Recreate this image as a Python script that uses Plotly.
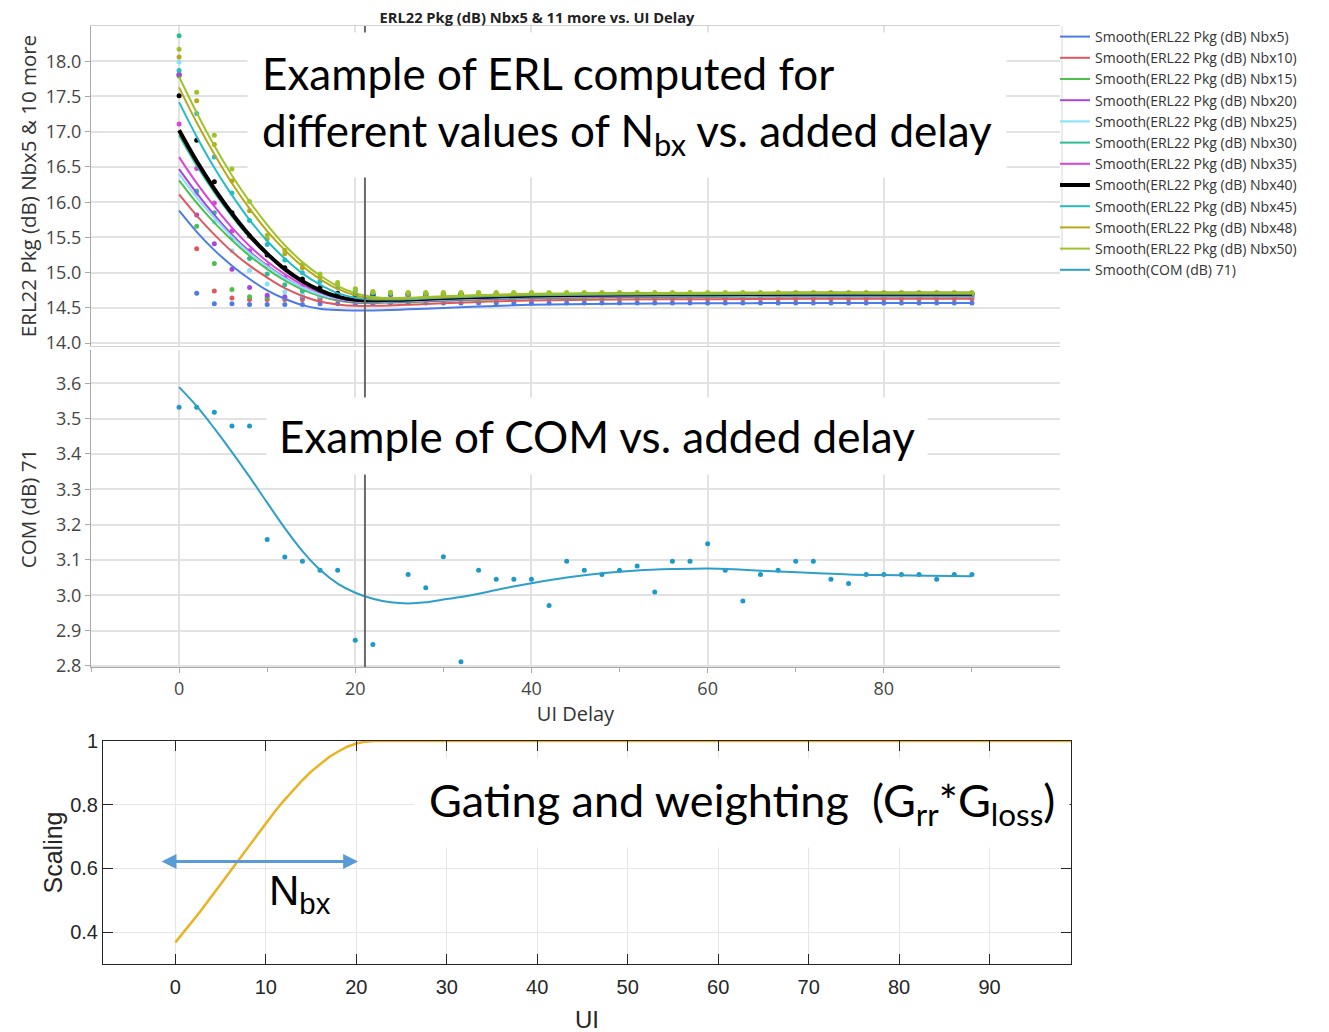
import plotly.graph_objects as go

# ---------------- data ----------------
ERL_X = [0, 2, 4, 6, 8, 10, 12, 14, 16, 18, 20, 22, 24, 26, 28, 30, 32, 34, 36, 38, 40, 42, 44,
         46, 48, 50, 52, 54, 56, 58, 60, 62, 64, 66, 68, 70, 72, 74, 76, 78, 80, 82, 84, 86, 88, 90]

PTS_NBX5 = [17.80, 14.71, 14.56, 14.56, 14.55, 14.55, 14.55, 14.55, 14.56, 14.56, 14.56, 14.56, 14.57,
            14.57, 14.57, 14.57, 14.57, 14.57, 14.57, 14.57, 14.57, 14.57, 14.57, 14.57,
            14.57, 14.57, 14.57, 14.57, 14.57, 14.57, 14.57, 14.57, 14.57, 14.57, 14.57,
            14.57, 14.57, 14.57, 14.57, 14.57, 14.57, 14.57, 14.57, 14.57, 14.57, 14.57]
PTS_NBX10 = [17.82, 15.34, 14.74, 14.64, 14.62, 14.62, 14.62, 14.62, 14.62, 14.62, 14.63, 14.63, 14.63,
             14.63, 14.63, 14.63, 14.63, 14.63, 14.63, 14.63, 14.63, 14.63, 14.63, 14.63,
             14.63, 14.63, 14.63, 14.63, 14.63, 14.63, 14.63, 14.63, 14.63, 14.63, 14.63,
             14.63, 14.63, 14.63, 14.63, 14.63, 14.63, 14.63, 14.63, 14.63, 14.63, 14.63]
PTS_NBX15 = [17.79, 15.66, 15.13, 14.76, 14.66, 14.65, 14.65, 14.65, 14.65, 14.66, 14.66, 14.66, 14.66,
             14.66, 14.66, 14.66, 14.66, 14.66, 14.66, 14.66, 14.66, 14.66, 14.66, 14.66,
             14.66, 14.66, 14.66, 14.66, 14.66, 14.66, 14.66, 14.66, 14.66, 14.66, 14.66,
             14.66, 14.66, 14.66, 14.66, 14.66, 14.66, 14.66, 14.66, 14.66, 14.66, 14.66]
PTS_NBX20 = [17.81, 15.82, 15.41, 15.05, 14.79, 14.68, 14.66, 14.66, 14.66, 14.66, 14.67, 14.67, 14.67,
             14.67, 14.67, 14.67, 14.67, 14.67, 14.67, 14.67, 14.67, 14.67, 14.67, 14.67,
             14.67, 14.67, 14.67, 14.67, 14.67, 14.67, 14.67, 14.67, 14.67, 14.67, 14.67,
             14.67, 14.67, 14.67, 14.67, 14.67, 14.67, 14.67, 14.67, 14.67, 14.67, 14.67]
PTS_NBX25 = [17.99, 16.12, 15.72, 15.31, 15.03, 14.84, 14.73, 14.68, 14.67, 14.67, 14.67, 14.68, 14.68,
             14.68, 14.68, 14.68, 14.68, 14.68, 14.68, 14.68, 14.68, 14.68, 14.68, 14.68,
             14.68, 14.68, 14.68, 14.68, 14.68, 14.68, 14.68, 14.68, 14.68, 14.68, 14.68,
             14.68, 14.68, 14.68, 14.68, 14.68, 14.68, 14.68, 14.68, 14.68, 14.68, 14.68]
PTS_NBX30 = [18.36, 16.16, 15.85, 15.50, 15.20, 14.98, 14.83, 14.74, 14.70, 14.68, 14.68, 14.69, 14.69,
             14.69, 14.69, 14.69, 14.69, 14.69, 14.69, 14.69, 14.69, 14.69, 14.69, 14.69,
             14.69, 14.69, 14.69, 14.69, 14.69, 14.69, 14.69, 14.69, 14.69, 14.69, 14.69,
             14.69, 14.69, 14.69, 14.69, 14.69, 14.69, 14.69, 14.69, 14.69, 14.69, 14.69]
PTS_NBX35 = [17.11, 16.48, 15.99, 15.59, 15.31, 15.10, 14.93, 14.82, 14.74, 14.70, 14.69, 14.69, 14.69,
             14.69, 14.69, 14.69, 14.69, 14.69, 14.69, 14.69, 14.69, 14.69, 14.69, 14.69,
             14.69, 14.69, 14.69, 14.69, 14.69, 14.69, 14.69, 14.69, 14.69, 14.69, 14.69,
             14.69, 14.69, 14.69, 14.69, 14.69, 14.69, 14.69, 14.69, 14.69, 14.69, 14.69]
PTS_NBX40 = [17.51, 16.88, 16.29, 15.85, 15.52, 15.25, 15.07, 14.91, 14.79, 14.71, 14.69, 14.69, 14.70,
             14.70, 14.70, 14.70, 14.70, 14.70, 14.70, 14.70, 14.70, 14.70, 14.70, 14.70,
             14.70, 14.70, 14.70, 14.70, 14.70, 14.70, 14.70, 14.70, 14.70, 14.70, 14.70,
             14.70, 14.70, 14.70, 14.70, 14.70, 14.70, 14.70, 14.70, 14.70, 14.70, 14.70]
PTS_NBX45 = [17.87, 17.26, 16.64, 16.13, 15.74, 15.40, 15.18, 15.00, 14.88, 14.79, 14.74, 14.71, 14.70,
             14.70, 14.70, 14.70, 14.70, 14.70, 14.70, 14.70, 14.70, 14.70, 14.70, 14.70,
             14.70, 14.70, 14.70, 14.70, 14.70, 14.70, 14.70, 14.70, 14.70, 14.70, 14.70,
             14.70, 14.70, 14.70, 14.70, 14.70, 14.70, 14.70, 14.70, 14.70, 14.70, 14.70]
PTS_NBX48 = [18.06, 17.44, 16.82, 16.30, 15.88, 15.48, 15.27, 15.07, 14.94, 14.84, 14.77, 14.73, 14.72,
             14.71, 14.71, 14.71, 14.71, 14.71, 14.71, 14.71, 14.71, 14.71, 14.71, 14.71,
             14.71, 14.71, 14.71, 14.71, 14.71, 14.71, 14.71, 14.71, 14.71, 14.71, 14.71,
             14.71, 14.71, 14.71, 14.71, 14.71, 14.71, 14.71, 14.71, 14.71, 14.71, 14.71]
PTS_NBX50 = [18.17, 17.56, 16.95, 16.47, 16.01, 15.53, 15.32, 15.12, 14.98, 14.86, 14.77, 14.73, 14.72,
             14.72, 14.72, 14.72, 14.72, 14.72, 14.72, 14.72, 14.72, 14.72, 14.72, 14.72,
             14.72, 14.72, 14.72, 14.72, 14.72, 14.72, 14.72, 14.72, 14.72, 14.72, 14.72,
             14.72, 14.72, 14.72, 14.72, 14.72, 14.72, 14.72, 14.72, 14.72, 14.72, 14.72]

CURVE_X = [0, 2, 4, 6, 8, 10, 12, 14, 16, 18, 20, 22, 24, 26, 28, 30, 35, 40, 50, 60, 70, 80, 90]
SMOOTH_NBX5 = [15.88, 15.58, 15.32, 15.10, 14.91, 14.75, 14.63, 14.54, 14.49, 14.47, 14.465, 14.465,
               14.47, 14.48, 14.49, 14.50, 14.525, 14.545, 14.56, 14.565, 14.57, 14.57, 14.57]
SMOOTH_NBX10 = [16.11, 15.81, 15.54, 15.30, 15.10, 14.93, 14.78, 14.67, 14.59, 14.55, 14.53, 14.53,
                14.535, 14.545, 14.555, 14.565, 14.59, 14.605, 14.62, 14.625, 14.63, 14.63, 14.63]
SMOOTH_NBX15 = [16.31, 15.99, 15.71, 15.46, 15.24, 15.05, 14.89, 14.76, 14.67, 14.605, 14.575, 14.57,
                14.575, 14.58, 14.59, 14.60, 14.62, 14.635, 14.65, 14.655, 14.66, 14.66, 14.66]
SMOOTH_NBX20 = [16.47, 16.13, 15.82, 15.54, 15.30, 15.10, 14.93, 14.79, 14.69, 14.62, 14.585, 14.58,
                14.585, 14.59, 14.60, 14.61, 14.63, 14.645, 14.66, 14.665, 14.67, 14.67, 14.67]
SMOOTH_NBX25 = [16.40, 16.07, 15.78, 15.51, 15.28, 15.09, 14.92, 14.79, 14.69, 14.63, 14.595, 14.59,
                14.595, 14.60, 14.61, 14.62, 14.64, 14.655, 14.67, 14.675, 14.68, 14.68, 14.68]
SMOOTH_NBX30 = [16.95, 16.52, 16.14, 15.80, 15.50, 15.25, 15.03, 14.86, 14.73, 14.65, 14.605, 14.60,
                14.605, 14.61, 14.62, 14.63, 14.65, 14.665, 14.68, 14.685, 14.69, 14.69, 14.69]
SMOOTH_NBX35 = [16.64, 16.27, 15.94, 15.64, 15.38, 15.16, 14.98, 14.83, 14.72, 14.64, 14.605, 14.60,
                14.605, 14.61, 14.62, 14.63, 14.65, 14.665, 14.68, 14.685, 14.69, 14.69, 14.69]
SMOOTH_NBX40 = [17.02, 16.58, 16.19, 15.84, 15.53, 15.27, 15.05, 14.88, 14.75, 14.66, 14.615, 14.61,
                14.615, 14.62, 14.63, 14.64, 14.66, 14.675, 14.69, 14.695, 14.70, 14.70, 14.70]
SMOOTH_NBX45 = [17.42, 16.93, 16.49, 16.10, 15.75, 15.45, 15.20, 14.99, 14.83, 14.71, 14.645, 14.62,
                14.62, 14.625, 14.635, 14.645, 14.665, 14.68, 14.69, 14.695, 14.70, 14.70, 14.70]
SMOOTH_NBX48 = [17.63, 17.13, 16.68, 16.27, 15.91, 15.59, 15.32, 15.09, 14.91, 14.77, 14.68, 14.635,
                14.63, 14.635, 14.645, 14.655, 14.675, 14.69, 14.70, 14.705, 14.71, 14.71, 14.71]
SMOOTH_NBX50 = [17.78, 17.27, 16.80, 16.38, 16.01, 15.68, 15.39, 15.15, 14.96, 14.81, 14.71, 14.655,
                14.64, 14.645, 14.655, 14.665, 14.685, 14.70, 14.71, 14.715, 14.72, 14.72, 14.72]

NBX_NAMES = ["Nbx5", "Nbx10", "Nbx15", "Nbx20", "Nbx25", "Nbx30", "Nbx35", "Nbx40", "Nbx45", "Nbx48", "Nbx50"]
NBX_COLORS = ["#4B7BE5", "#E0585F", "#4CBF4C", "#A845E0", "#86E1F9", "#2EBD97",
              "#D944D9", "#000000", "#26BCC6", "#B8A819", "#9DC32A"]

ERL_TICKS = [14.0, 14.5, 15.0, 15.5, 16.0, 16.5, 17.0, 17.5, 18.0]
COM_TICKS = [2.8, 2.9, 3.0, 3.1, 3.2, 3.3, 3.4, 3.5, 3.6]
DELAY_TICKS = [0, 20, 40, 60, 80]
DELAY_MINOR = [-10, 10, 30, 50, 70, 90]

COM_X = ERL_X
COM_PTS = [3.532, 3.532, 3.518, 3.479, 3.479, 3.158, 3.108, 3.096, 3.071, 3.071, 2.873, 2.861, None,
           3.059, 3.021, 3.109, 2.812, 3.071, 3.045, 3.045, 3.045, 2.971, 3.096, 3.071,
           3.059, 3.071, 3.083, 3.009, 3.096, 3.096, 3.146, 3.071, 2.984, 3.059, 3.071,
           3.096, 3.096, 3.045, 3.033, 3.059, 3.059, 3.059, 3.059, 3.045, 3.059, 3.059]
COM_CURVE_X = [0, 2, 4, 6, 8, 10, 12, 14, 16, 18, 20, 22, 24, 26, 28, 30, 32, 34, 36, 40, 44, 48,
               52, 56, 60, 64, 68, 72, 76, 80, 85, 90]
COM_CURVE_Y = [3.589, 3.535, 3.472, 3.405, 3.335, 3.262, 3.19, 3.125, 3.072, 3.033, 3.007, 2.99,
               2.98, 2.977, 2.98, 2.988, 2.995, 3.004, 3.015, 3.034, 3.05, 3.062, 3.07, 3.074,
               3.076, 3.072, 3.067, 3.063, 3.059, 3.057, 3.055, 3.054]

GATE_X = [0, 1, 2, 3, 4, 5, 6, 7, 8, 9, 10, 11, 12, 13, 14, 15, 16, 17, 18, 19, 20, 21, 22, 99]
GATE_Y = [0.368, 0.402, 0.438, 0.474, 0.512, 0.550, 0.589, 0.628, 0.667, 0.705, 0.743, 0.779,
          0.813, 0.846, 0.876, 0.904, 0.928, 0.950, 0.967, 0.982, 0.992, 0.998, 1.0, 1.0]
GATE_TICKS = [0.4, 0.6, 0.8, 1.0]
GATE_TICKTEXT = ["0.4", "0.6", "0.8", "1"]

REF_DELAY = 21.1
ARROW_X = (-1.7, 20.2)
ARROW_Y = 0.622

# ---------------- figure ----------------
W, H = 1329, 1032
OFF = 8  # page body margin: figure pixel = page pixel - OFF


def px_x(p):
    return (p - OFF) / W


def px_y(p):
    return 1 - (p - OFF) / H


JMP_FONT = "Open Sans"
ML_FONT = "Liberation Sans, Arial"
TXT_FONT = "Lato"

pts = [PTS_NBX5, PTS_NBX10, PTS_NBX15, PTS_NBX20, PTS_NBX25, PTS_NBX30,
       PTS_NBX35, PTS_NBX40, PTS_NBX45, PTS_NBX48, PTS_NBX50]
smooth = [SMOOTH_NBX5, SMOOTH_NBX10, SMOOTH_NBX15, SMOOTH_NBX20, SMOOTH_NBX25, SMOOTH_NBX30,
          SMOOTH_NBX35, SMOOTH_NBX40, SMOOTH_NBX45, SMOOTH_NBX48, SMOOTH_NBX50]

fig = go.Figure()

for name, col, yv in zip(NBX_NAMES, NBX_COLORS, pts):
    fig.add_trace(go.Scatter(x=ERL_X, y=yv, mode="markers", xaxis="x2", yaxis="y",
                             marker=dict(color=col, size=5), showlegend=False,
                             name="ERL22 Pkg (dB) " + name))
for name, col, yv in zip(NBX_NAMES, NBX_COLORS, smooth):
    fig.add_trace(go.Scatter(x=CURVE_X, y=yv, mode="lines", xaxis="x2", yaxis="y",
                             line=dict(color=col, width=4 if col == "#000000" else 2,
                                       shape="spline", smoothing=1.0),
                             name="Smooth(ERL22 Pkg (dB) " + name + ")"))

COM_COLOR = "#2E9FCB"
fig.add_trace(go.Scatter(x=COM_X, y=COM_PTS, mode="markers", xaxis="x", yaxis="y2",
                         marker=dict(color="#1E98C6", size=5), showlegend=False, name="COM (dB) 71"))
fig.add_trace(go.Scatter(x=COM_CURVE_X, y=COM_CURVE_Y, mode="lines", xaxis="x", yaxis="y2",
                         line=dict(color=COM_COLOR, width=2, shape="spline", smoothing=1.0),
                         name="Smooth(COM (dB) 71)"))

fig.add_trace(go.Scatter(x=GATE_X, y=GATE_Y, mode="lines", xaxis="x3", yaxis="y3",
                         line=dict(color="#EDB120", width=2.5), showlegend=False, name="Gating"))

GRID = "#E2E2E2"
AXL = "#A9A9A9"
TICKF = dict(family=JMP_FONT, size=18, color="#454545")
dom_x = [px_x(91), px_x(1060)]

fig.update_layout(
    width=W, height=H, autosize=False,
    margin=dict(l=0, r=0, t=0, b=0, pad=0),
    paper_bgcolor="white", plot_bgcolor="white",
    title=dict(text="<b>ERL22 Pkg (dB) Nbx5 & 11 more vs. UI Delay</b>",
               x=px_x(537), xanchor="center", y=px_y(18), yanchor="middle", yref="container",
               xref="container", automargin=False,
               font=dict(family=JMP_FONT, size=14.7, color="#222")),
    xaxis=dict(domain=dom_x, anchor="y2", range=[-10, 100], tickvals=DELAY_TICKS, automargin=False,
               showgrid=True, gridcolor=GRID, gridwidth=1.5, zeroline=False,
               showline=True, linecolor=AXL, linewidth=1,
               ticks="outside", ticklen=5, tickcolor=AXL, tickfont=TICKF,
               minor=dict(tickvals=DELAY_MINOR, ticks="outside", ticklen=4, tickcolor=AXL, showgrid=False),
               title=dict(text="UI Delay", font=dict(family=JMP_FONT, size=20, color="#333"), standoff=4)),
    xaxis2=dict(domain=dom_x, anchor="y", matches="x", range=[-10, 100], tickvals=DELAY_TICKS,
                automargin=False,
                showgrid=True, gridcolor=GRID, gridwidth=1.5, zeroline=False,
                showticklabels=False, ticks="", showline=True, mirror=True,
                linecolor="#D2D2D2", linewidth=1),
    yaxis=dict(domain=[px_y(346), px_y(26)], anchor="x2", range=[13.96, 18.5], automargin=False,
               tickvals=ERL_TICKS, tickformat=".1f", showgrid=True, gridcolor=GRID, gridwidth=2,
               zeroline=False, showline=True, linecolor=AXL, ticks="outside", ticklen=5,
               tickcolor=AXL, tickfont=TICKF,
               title=dict(text="ERL22 Pkg (dB) Nbx5 & 10 more",
                          font=dict(family=JMP_FONT, size=20.5, color="#333"), standoff=3)),
    yaxis2=dict(domain=[px_y(667), px_y(350)], anchor="x", range=[2.797, 3.694], automargin=False,
                tickvals=COM_TICKS, tickformat=".1f", showgrid=True, gridcolor=GRID, gridwidth=2,
                zeroline=False, showline=True, linecolor=AXL, ticks="outside", ticklen=5,
                tickcolor=AXL, tickfont=TICKF,
                title=dict(text="COM (dB) 71", font=dict(family=JMP_FONT, size=20.5, color="#333"),
                           standoff=13)),
    xaxis3=dict(domain=[px_x(103), px_x(1071)], anchor="y3", range=[-8, 99], tick0=0, dtick=10,
                automargin=False,
                showgrid=True, gridcolor="#E6E6E6", zeroline=False,
                showline=True, mirror="ticks", linecolor="#262626", linewidth=1,
                ticks="inside", ticklen=10, tickcolor="#262626", ticklabelstandoff=5,
                tickfont=dict(family=ML_FONT, size=20, color="#262626"),
                title=dict(text="UI", font=dict(family=ML_FONT, size=24, color="#262626"), standoff=14)),
    yaxis3=dict(domain=[px_y(964), px_y(741)], anchor="x3", range=[0.3, 1.0], automargin=False,
                tickvals=GATE_TICKS, ticktext=GATE_TICKTEXT,
                showgrid=True, gridcolor="#E6E6E6", zeroline=False,
                showline=True, mirror="ticks", linecolor="#262626", linewidth=1,
                ticks="inside", ticklen=10, tickcolor="#262626",
                tickfont=dict(family=ML_FONT, size=20, color="#262626"),
                title=dict(text="Scaling", font=dict(family=ML_FONT, size=25, color="#262626"),
                           standoff=0)),
    legend=dict(x=px_x(1055), y=px_y(21), xanchor="left", yanchor="top",
                font=dict(family=JMP_FONT, size=14, color="#333"),
                itemwidth=30, tracegroupgap=0, bgcolor="rgba(0,0,0,0)"),
    showlegend=True,
)

fig.add_shape(type="line", xref="x", yref="paper", x0=REF_DELAY, x1=REF_DELAY,
              y0=px_y(667), y1=px_y(26), line=dict(color="#6A6A6A", width=2), layer="above")
# light frame line on the left side of the legend panel
fig.add_shape(type="line", xref="paper", yref="paper", x0=px_x(1062), x1=px_x(1062),
              y0=px_y(252), y1=px_y(26), line=dict(color="#D6D6D6", width=1), layer="above")

fig.add_annotation(xref="paper", yref="paper", x=px_x(627), y=px_y(105), xanchor="center", yanchor="middle",
                   text="Example of ERL computed for<br>different values of N<sub>bx</sub> vs. added delay",
                   showarrow=False, align="left", bgcolor="white", borderpad=14,
                   font=dict(family=TXT_FONT, size=44, color="black"))
fig.add_annotation(xref="paper", yref="paper", x=px_x(597), y=px_y(436), xanchor="center", yanchor="middle",
                   text="Example of COM vs. added delay",
                   showarrow=False, align="left", bgcolor="white", borderpad=12,
                   font=dict(family=TXT_FONT, size=44, color="black"))
fig.add_annotation(xref="paper", yref="paper", x=px_x(742), y=px_y(803), xanchor="center", yanchor="middle",
                   text="Gating and weighting&nbsp; (G<sub>rr</sub>*G<sub>loss</sub>)",
                   showarrow=False, align="left", bgcolor="white", borderpad=14,
                   font=dict(family=TXT_FONT, size=45, color="black"))
fig.add_annotation(xref="paper", yref="paper", x=px_x(300), y=px_y(893), xanchor="center", yanchor="middle",
                   text="N<sub>bx</sub>", showarrow=False,
                   font=dict(family=ML_FONT, size=42, color="black"))
fig.add_annotation(xref="x3", yref="y3", x=ARROW_X[1], y=ARROW_Y, ax=ARROW_X[0], ay=ARROW_Y,
                   axref="x3", ayref="y3", text="", showarrow=True, arrowside="end+start",
                   arrowhead=2, startarrowhead=2, arrowsize=1, startarrowsize=1, arrowwidth=3,
                   arrowcolor="#5B9BD5", standoff=0, startstandoff=0)

fig.write_html("out.html")
